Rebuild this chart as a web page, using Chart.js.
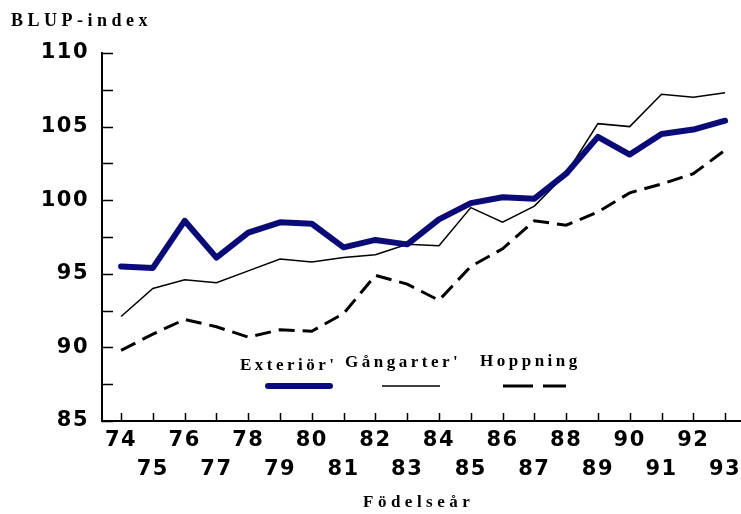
<!DOCTYPE html>
<html>
<head>
<meta charset="utf-8">
<script src="https://cdn.jsdelivr.net/npm/chart.js@4"></script>
<style>
    body { margin: 0; background: #fff; }
    #wrap { position: relative; width: 741px; height: 514px; }
    #chart { position: absolute; left: 0; top: 0; }
    .lbl {
        position: absolute;
        font-family: "Liberation Serif", "Times New Roman", serif;
        font-weight: bold;
        color: #000;
        line-height: 1;
        white-space: nowrap;
    }
</style>
</head>
<body>
<div id="wrap">
    <canvas id="chart" width="741" height="514"></canvas>
    <div class="lbl" style="left:11px; top:11px; font-size:18px; letter-spacing:4.5px;">BLUP-index</div>
    <div class="lbl" style="left:240px; top:356px; font-size:17px; letter-spacing:3.5px;">Exteriör'</div>
    <div class="lbl" style="left:345px; top:353px; font-size:17px; letter-spacing:3.5px;">Gångarter'</div>
    <div class="lbl" style="left:480px; top:352px; font-size:17px; letter-spacing:3.5px;">Hoppning</div>
    <div class="lbl" style="left:363px; top:493px; font-size:17px; letter-spacing:4.5px;">Födelseår</div>
</div>
<script>
// Data
const years = [74, 75, 76, 77, 78, 79, 80, 81, 82, 83, 84, 85, 86, 87, 88, 89, 90, 91, 92, 93];
const exterior = [95.5, 95.4, 98.6, 96.1, 97.8, 98.5, 98.4, 96.8, 97.3, 97.0, 98.7, 99.8, 100.2, 100.1, 101.8, 104.3, 103.1, 104.5, 104.8, 105.4];
const gangarter = [92.1, 94.0, 94.6, 94.4, 95.2, 96.0, 95.8, 96.1, 96.3, 97.0, 96.9, 99.5, 98.5, 99.6, 101.8, 105.2, 105.0, 107.2, 107.0, 107.3];
const hoppning = [89.8, 90.9, 91.9, 91.4, 90.7, 91.2, 91.1, 92.3, 94.9, 94.3, 93.2, 95.5, 96.7, 98.6, 98.3, 99.2, 100.5, 101.1, 101.8, 103.4];
const yTicks = [85, 87.5, 90, 92.5, 95, 97.5, 100, 102.5, 105, 107.5, 110];

const navy = '#0b0b78';
const toPoints = arr => arr.map((v, i) => ({ x: years[i], y: v }));

// the tick digits in the original are set wide, so space them out a little
const wideDigits = {
    id: 'wideDigits',
    beforeUpdate(chart) { chart.ctx.letterSpacing = '1.5px'; },
    beforeDraw(chart) { chart.ctx.letterSpacing = '1.5px'; }
};

// inward tick marks on both axes + legend line samples
const axisMarks = {
    id: 'axisMarks',
    beforeDatasetsDraw(chart) {
        const ctx = chart.ctx;
        const area = chart.chartArea;
        const xs = chart.scales.x;
        const ys = chart.scales.y;
        ctx.save();
        ctx.strokeStyle = '#000';
        ctx.lineWidth = 1.5;
        ctx.beginPath();
        yTicks.forEach(v => {
            const py = Math.round(ys.getPixelForValue(v)) + 0.5;
            ctx.moveTo(area.left, py);
            ctx.lineTo(area.left + 11, py);
        });
        years.forEach(v => {
            const px = Math.round(xs.getPixelForValue(v)) + 0.5;
            ctx.moveTo(px, area.bottom);
            ctx.lineTo(px, area.bottom - 8);
        });
        ctx.stroke();
        ctx.restore();
    },
    afterDraw(chart) {
        const ctx = chart.ctx;
        const ds = chart.data.datasets;
        const samples = [
            { ds: ds[0], x0: 268, x1: 330, dash: [] },
            { ds: ds[1], x0: 382, x1: 440, dash: [] },
            { ds: ds[2], x0: 503, x1: 566, dash: [30, 10] }
        ];
        ctx.save();
        samples.forEach(s => {
            ctx.strokeStyle = s.ds.borderColor;
            ctx.lineWidth = s.ds.borderWidth;
            ctx.lineCap = s.ds.borderCapStyle || 'butt';
            ctx.setLineDash(s.dash);
            ctx.beginPath();
            ctx.moveTo(s.x0, 386);
            ctx.lineTo(s.x1, 386);
            ctx.stroke();
        });
        ctx.restore();
    }
};

new Chart(document.getElementById('chart'), {
    type: 'line',
    data: {
        datasets: [
            {
                label: 'Exteriör',
                data: toPoints(exterior),
                borderColor: navy,
                borderWidth: 6,
                borderJoinStyle: 'round',
                borderCapStyle: 'round',
                pointRadius: 0,
                tension: 0
            },
            {
                label: 'Gångarter',
                data: toPoints(gangarter),
                borderColor: '#000',
                borderWidth: 1.5,
                pointRadius: 0,
                tension: 0
            },
            {
                label: 'Hoppning',
                data: toPoints(hoppning),
                borderColor: '#000',
                borderWidth: 3,
                borderDash: [16, 8],
                pointRadius: 0,
                tension: 0
            }
        ]
    },
    options: {
        responsive: false,
        animation: false,
        layout: { padding: { top: 53, right: 0, left: 0, bottom: 0 } },
        plugins: {
            legend: { display: false },
            tooltip: { enabled: false }
        },
        scales: {
            x: {
                type: 'linear',
                min: 73.4,
                max: 93.5,
                afterBuildTicks: scale => { scale.ticks = years.map(v => ({ value: v })); },
                afterFit: scale => { scale.height = 93; scale.paddingLeft = 0; scale.paddingRight = 0; },
                grid: { display: false, drawTicks: false },
                border: { display: true, color: '#000', width: 2 },
                ticks: {
                    autoSkip: false,
                    maxRotation: 0,
                    padding: 5,
                    color: '#000',
                    font: { family: 'DejaVu Sans', weight: 'bold', size: 21, lineHeight: 1.38 },
                    callback: (v, i) => (i % 2 === 0 ? [String(v), ''] : ['', String(v)])
                }
            },
            y: {
                min: 85,
                max: 110,
                afterBuildTicks: scale => { scale.ticks = yTicks.map(v => ({ value: v })); },
                afterFit: scale => { scale.width = 102; },
                grid: { display: false, drawTicks: false },
                border: { display: true, color: '#000', width: 2 },
                ticks: {
                    padding: 13,
                    color: '#000',
                    font: { family: 'DejaVu Sans', weight: 'bold', size: 21 },
                    callback: v => (v % 5 === 0 ? v : '')
                }
            }
        }
    },
    plugins: [wideDigits, axisMarks]
});
</script>
</body>
</html>
